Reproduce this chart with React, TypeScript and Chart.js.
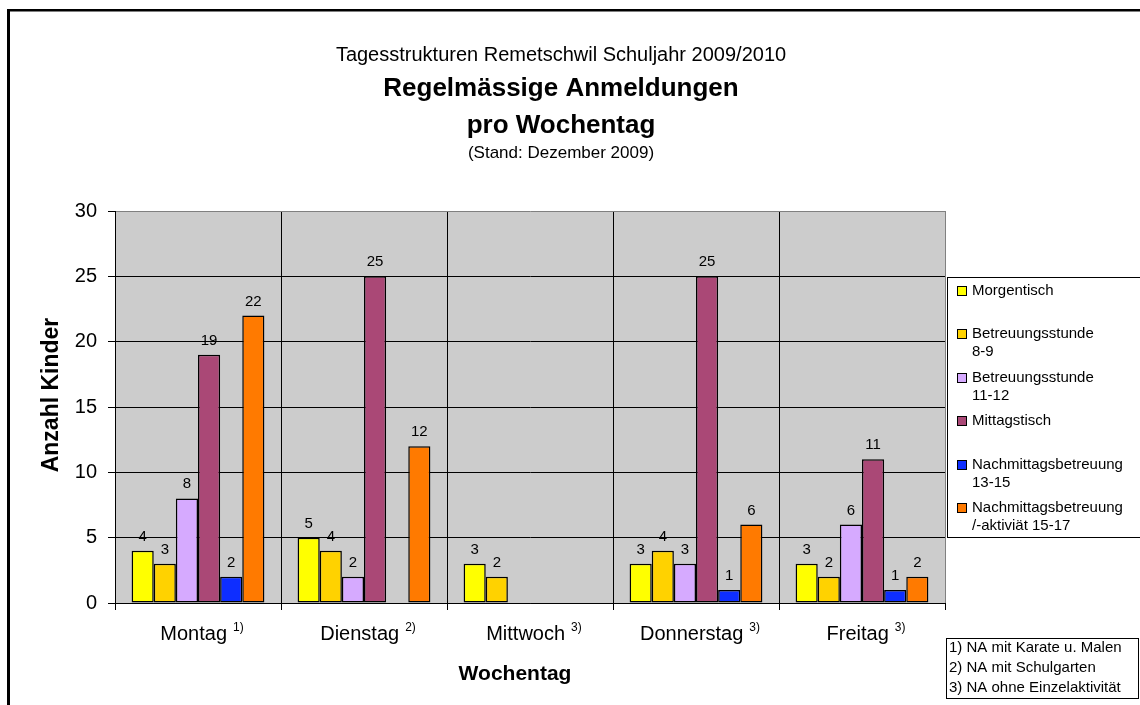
import React, { useEffect, useRef } from 'react';
import { Chart, registerables } from 'chart.js';

Chart.register(...registerables);

const FONT = "'Liberation Sans', Arial, Helvetica, sans-serif";

// ---- data ----
const days = ['Montag', 'Dienstag', 'Mittwoch', 'Donnerstag', 'Freitag'];
const dayNotes = ['1)', '2)', '3)', '3)', '3)'];

const seriesNames = [
  'Morgentisch',
  'Betreuungsstunde\n8-9',
  'Betreuungsstunde\n11-12',
  'Mittagstisch',
  'Nachmittagsbetreuung\n13-15',
  'Nachmittagsbetreuung\n/-aktiviät 15-17',
];

const morgentisch = [4, 5, 3, 3, 3];
const betreuung89 = [3, 4, 2, 4, 2];
const betreuung1112 = [8, 2, null, 3, 6];
const mittagstisch = [19, 25, null, 25, 11];
const nachmittag1315 = [2, null, null, 1, 1];
const nachmittag1517 = [22, 12, null, 6, 2];

const seriesValues = [morgentisch, betreuung89, betreuung1112, mittagstisch, nachmittag1315, nachmittag1517];
const seriesColors = ['#FFFF00', '#FFD200', '#D6AAFF', '#AA4876', '#0E2EFF', '#FF7A00'];

const yMin = 0;
const yMax = 30;
const yStep = 5;

const titleLine1 = 'Tagesstrukturen Remetschwil Schuljahr 2009/2010';
const titleLine2 = 'Regelmässige Anmeldungen';
const titleLine3 = 'pro Wochentag';
const titleLine4 = '(Stand: Dezember 2009)';
const xTitle = 'Wochentag';
const yTitle = 'Anzahl Kinder';
const footnotes = ['1) NA mit Karate u. Malen', '2) NA mit Schulgarten', '3) NA ohne Einzelaktivität'];

const decorPlugin = {
  id: 'decor',
  beforeDraw(chart: any) {
    const { ctx, chartArea } = chart;
    ctx.save();
    ctx.fillStyle = '#FFFFFF';
    ctx.fillRect(0, 0, chart.width, chart.height);
    ctx.fillStyle = '#CCCCCC';
    ctx.fillRect(chartArea.left, chartArea.top, chartArea.right - chartArea.left, chartArea.bottom - chartArea.top);
    ctx.restore();
  },
  afterDraw(chart: any) {
    const ctx = chart.ctx;
    ctx.save();
    // outer frame
    ctx.fillStyle = '#000';
    ctx.fillRect(7, 9, 3, 700);
    ctx.fillRect(7, 9, 1140, 2.5);

    // titles
    ctx.textAlign = 'center';
    ctx.textBaseline = 'alphabetic';
    ctx.fillStyle = '#000';
    ctx.font = `20px ${FONT}`;
    ctx.fillText(titleLine1, 561, 61);
    ctx.font = `bold 26px ${FONT}`;
    ctx.fillText(titleLine2, 561, 96);
    ctx.fillText(titleLine3, 561, 133);
    ctx.font = `17px ${FONT}`;
    ctx.fillText(titleLine4, 561, 158);

    // value labels
    ctx.font = `15px ${FONT}`;
    chart.data.datasets.forEach((ds: any, di: number) => {
      const meta = chart.getDatasetMeta(di);
      meta.data.forEach((el: any, i: number) => {
        const v = ds.data[i];
        if (v === null || v === undefined) return;
        ctx.fillText(String(v), el.x, el.y - 10);
      });
    });

    // x category labels with superscripts
    const xs = chart.scales.x;
    days.forEach((d, i) => {
      const cx = xs.getPixelForValue(i);
      ctx.font = `20px ${FONT}`;
      const w1 = ctx.measureText(d).width;
      ctx.font = `12px ${FONT}`;
      const w2 = ctx.measureText(dayNotes[i]).width;
      const gap = 6;
      const start = cx - (w1 + gap + w2) / 2 + 4;
      ctx.textAlign = 'left';
      ctx.font = `20px ${FONT}`;
      ctx.fillText(d, start, 640);
      ctx.font = `12px ${FONT}`;
      ctx.fillText(dayNotes[i], start + w1 + gap, 631);
    });

    // axis titles
    ctx.textAlign = 'center';
    ctx.font = `bold 21px ${FONT}`;
    ctx.fillText(xTitle, 515, 680);
    ctx.save();
    ctx.translate(52, 395);
    ctx.rotate(-Math.PI / 2);
    ctx.textBaseline = 'middle';
    ctx.font = `bold 23px ${FONT}`;
    ctx.fillText(yTitle, 0, 0);
    ctx.restore();

    // legend
    ctx.fillStyle = '#FFFFFF';
    ctx.fillRect(947.5, 277.5, 200, 260);
    ctx.strokeStyle = '#000';
    ctx.lineWidth = 1;
    ctx.strokeRect(947.5, 277.5, 200, 260);
    ctx.textAlign = 'left';
    ctx.textBaseline = 'middle';
    ctx.font = `15px ${FONT}`;
    seriesNames.forEach((name, i) => {
      const y0 = Math.round(291 + i * 43.4);
      ctx.fillStyle = seriesColors[i];
      ctx.fillRect(957.5, y0 - 4.5, 9, 9);
      ctx.strokeStyle = '#000';
      ctx.strokeRect(957.5, y0 - 4.5, 9, 9);
      ctx.fillStyle = '#000';
      name.split('\n').forEach((line, k) => {
        ctx.fillText(line, 972, y0 + k * 18);
      });
    });

    // footnote box
    ctx.fillStyle = '#FFFFFF';
    ctx.fillRect(946.5, 638.5, 192, 60);
    ctx.strokeStyle = '#000';
    ctx.strokeRect(946.5, 638.5, 192, 60);
    ctx.fillStyle = '#000';
    footnotes.forEach((f, k) => {
      ctx.fillText(f, 949, 648 + k * 20);
    });
    ctx.restore();
  },
};

export default function App() {
  const ref = useRef<HTMLCanvasElement | null>(null);

  useEffect(() => {
    if (!ref.current) return;
    const chart = new Chart(ref.current, {
      type: 'bar',
      data: {
        labels: days,
        datasets: seriesValues.map((vals, i) => ({
          label: seriesNames[i].replace('\n', ' '),
          data: vals,
          backgroundColor: seriesColors[i],
          borderColor: '#000',
          borderWidth: 1.5,
          borderSkipped: false,
          categoryPercentage: 0.8,
          barPercentage: 1,
        })),
      },
      options: {
        responsive: false,
        animation: false,
        devicePixelRatio: 1,
        layout: { padding: { top: 211, right: 195, left: 0, bottom: 0 } },
        plugins: {
          legend: { display: false },
          tooltip: { enabled: false },
          title: { display: false },
        },
        scales: {
          x: {
            grid: {
              offset: true,
              color: (c: any) => (c.type === 'tick' ? '#000' : '#808080'),
              tickColor: '#000',
              lineWidth: 1,
              drawTicks: true,
              tickLength: 7,
            },
            border: { display: true, color: '#000' },
            ticks: { display: false },
            afterFit: (s: any) => {
              s.height = 102;
            },
          },
          y: {
            min: yMin,
            max: yMax,
            ticks: {
              stepSize: yStep,
              font: { family: FONT, size: 20 },
              color: '#000',
              padding: 11,
            },
            grid: {
              color: (c: any) => (c.tick && c.tick.value === yMax ? '#808080' : '#000'),
              tickColor: '#000',
              tickLength: 7,
            },
            border: { display: true, color: '#000' },
            afterFit: (s: any) => {
              s.width = 115;
            },
          },
        },
      } as any,
      plugins: [decorPlugin],
    });
    return () => chart.destroy();
  }, []);

  return (
    <div style={{ position: 'absolute', left: 0, top: 0, width: 1140, height: 705 }}>
      <canvas ref={ref} width={1140} height={705} style={{ display: 'block' }} />
    </div>
  );
}
